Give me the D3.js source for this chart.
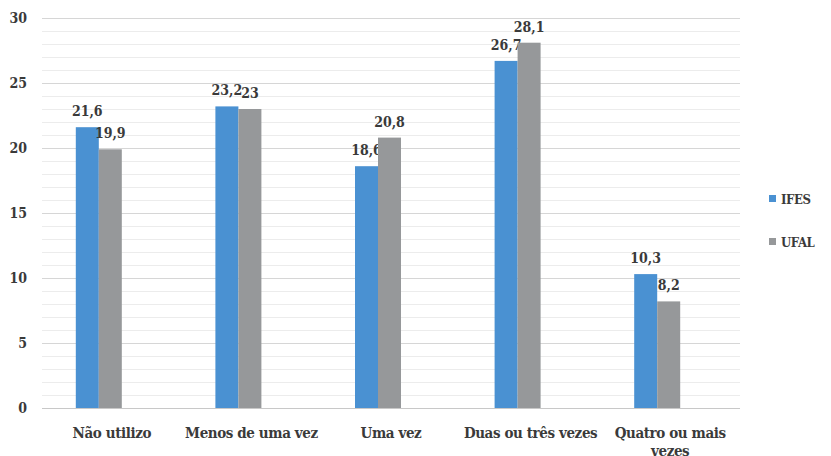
<!DOCTYPE html>
<html><head><meta charset="utf-8">
<script src="https://cdn.jsdelivr.net/npm/d3@7"></script>
<style>
body{margin:0;background:#fff;}
text{font-family:"DejaVu Serif Condensed","DejaVu Serif",serif;font-stretch:condensed;font-weight:bold;fill:#3a3a3a;}
</style></head><body>
<svg id="c" width="831" height="456"></svg>
<script>
const categories = ["Não utilizo","Menos de uma vez","Uma vez","Duas ou três vezes","Quatro ou mais vezes"];
const seriesNames = ["IFES","UFAL"];
const ifes = [21.6, 23.2, 18.6, 26.7, 10.3];
const ufal = [19.9, 23, 20.8, 28.1, 8.2];
const valueLabelsIfes = ["21,6","23,2","18,6","26,7","10,3"];
const valueLabelsUfal = ["19,9","23","20,8","28,1","8,2"];
const yTicks = [0,5,10,15,20,25,30];
const colors = ["#4a91d2","#96989a"];

(function(){
const svg = d3.select("#c");
const pL = 42, pR = 740, pT = 18, pB = 408;
const x = d3.scaleBand().domain(categories).range([pL, pR]);
const y = d3.scaleLinear().domain([0,30]).range([pB, pT]);

// gridlines
const minor = d3.range(1,31).filter(v => v % 5 !== 0);
svg.append("g").selectAll("line").data(minor).join("line")
  .attr("x1", pL).attr("x2", pR)
  .attr("y1", d => y(d) + 0.5).attr("y2", d => y(d) + 0.5)
  .attr("stroke", "#ececec").attr("stroke-width", 1);
svg.append("g").selectAll("line").data(yTicks).join("line")
  .attr("x1", pL).attr("x2", pR)
  .attr("y1", d => y(d) + 0.5).attr("y2", d => y(d) + 0.5)
  .attr("stroke", d => d === 0 ? "#c8c8c8" : "#d6d6d6").attr("stroke-width", 1);

// y axis labels
svg.append("g").selectAll("text").data(yTicks).join("text")
  .attr("x", 27).attr("y", d => y(d) + 5)
  .attr("text-anchor", "end").attr("font-size", 14).text(d => d);

// bars
const barW = 23, shift = -13;
const data = [ifes, ufal];
const labels = [valueLabelsIfes, valueLabelsUfal];
data.forEach((vals, s) => {
  const g = svg.append("g");
  g.selectAll("rect").data(vals).join("rect")
    .attr("x", (d,i) => x(categories[i]) + x.bandwidth()/2 + shift + (s-1)*barW)
    .attr("y", d => y(d))
    .attr("width", barW)
    .attr("height", d => y(0) - y(d))
    .attr("fill", colors[s]);
  g.selectAll("text").data(vals).join("text")
    .attr("x", (d,i) => x(categories[i]) + x.bandwidth()/2 + shift + (s-1)*barW + barW/2)
    .attr("y", d => y(d) - 11)
    .attr("text-anchor", "middle").attr("font-size", 14)
    .text((d,i) => labels[s][i]);
});

// category labels
const catLines = [["Não utilizo"],["Menos de uma vez"],["Uma vez"],["Duas ou três vezes"],["Quatro ou mais","vezes"]];
categories.forEach((c,i) => {
  const cx = x(c) + x.bandwidth()/2;
  const t = svg.append("text")
    .attr("x", cx).attr("y", 438)
    .attr("text-anchor", "middle").attr("font-size", 15)
    .style("letter-spacing", "-0.4px");
  catLines[i].forEach((ln,j) => {
    t.append("tspan").attr("x", cx).attr("dy", j === 0 ? 0 : 18).text(ln);
  });
});

// legend
seriesNames.forEach((n,i) => {
  const ly = 199 + i*43;
  svg.append("rect").attr("x", 769).attr("y", ly - 4).attr("width", 7).attr("height", 7).attr("fill", colors[i]);
  svg.append("text").attr("x", 781).attr("y", ly + 5).attr("font-size", 13).style("letter-spacing", "-0.4px").text(n);
});
})();
</script>
</body></html>
